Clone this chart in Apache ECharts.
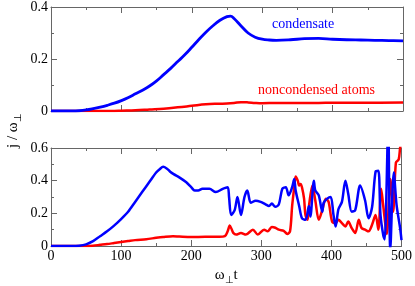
<!DOCTYPE html>
<html><head><meta charset="utf-8">
<script src="https://cdn.jsdelivr.net/npm/echarts@6/dist/echarts.min.js"></script>
<style>html,body{margin:0;padding:0;background:#fff}#c{width:415px;height:286px}</style>
</head><body><div id="c"></div>
<script>
// Top panel: condensate / noncondensed atoms
const tTopBlue = [0,10,20,30,40,50,60,70,80,90,100,110,120,130,140,150,160,170,180,190,200,210,220,230,240,250,255,260,270,280,290,300,310,320,340,360,380,400,420,440,460,480,500];
const topBlue  = [0,0,0,0,0.001,0.004,0.009,0.015,0.022,0.03,0.04,0.052,0.066,0.08,0.096,0.116,0.14,0.164,0.19,0.216,0.245,0.275,0.303,0.328,0.349,0.363,0.365,0.356,0.327,0.3,0.284,0.276,0.273,0.272,0.274,0.278,0.279,0.276,0.274,0.273,0.272,0.271,0.27];
const tTopRed  = [0,50,90,100,120,140,160,180,200,220,240,250,260,270,280,290,300,320,350,380,400,450,500];
const topRed   = [0,0,0,0.001,0.003,0.006,0.009,0.014,0.02,0.026,0.028,0.029,0.031,0.034,0.033,0.031,0.03,0.031,0.031,0.031,0.032,0.032,0.033];
// Bottom panel
const tBotBlue = [0,10,20,30,40,50,60,70,80,90,100,110,120,130,140,150,155,160,165,170,175,183,193,200,205,210,216,226,235,245,252,254,257,262,266,271,276,280,285,292,299,306,311,315,320,325,330,335,339,344,347,349,354,358,363,368,370,375,377,382,387,389,394,399,403,406,410,415,420,424,429,434,441,448,453,458,463,467,470,474,476,481,484,489,493,498,500];
const botBlue  = [0,0,0,0,0.002,0.01,0.03,0.06,0.09,0.125,0.165,0.21,0.27,0.33,0.39,0.45,0.47,0.485,0.475,0.455,0.44,0.42,0.39,0.36,0.34,0.34,0.35,0.35,0.33,0.35,0.36,0.3,0.19,0.22,0.3,0.19,0.3,0.34,0.265,0.277,0.27,0.255,0.245,0.26,0.24,0.255,0.35,0.36,0.31,0.36,0.41,0.34,0.245,0.17,0.16,0.245,0.18,0.4,0.34,0.31,0.21,0.265,0.29,0.3,0.19,0.12,0.225,0.27,0.4,0.32,0.21,0.22,0.37,0.28,0.17,0.237,0.455,0.46,0.19,0.065,0.04,0.72,-0.02,0.45,0.25,0.11,0.036];
const tBotRed  = [0,50,60,70,80,90,100,110,120,136,150,160,174,183,200,220,240,248,252,255,258,260,264,271,278,288,295,304,309,315,320,325,332,337,341,344,347,349,352,354,356,358,361,363,366,368,373,377,382,387,392,396,401,406,410,415,420,424,429,434,439,443,448,453,458,463,467,471,474,479,484,488,492,496,498,500];
const botRed   = [0,0,0.002,0.007,0.012,0.018,0.024,0.03,0.036,0.042,0.05,0.055,0.06,0.058,0.055,0.056,0.056,0.06,0.09,0.125,0.1,0.08,0.07,0.08,0.07,0.1,0.07,0.1,0.09,0.116,0.112,0.1,0.093,0.074,0.09,0.245,0.36,0.425,0.4,0.37,0.38,0.36,0.29,0.19,0.16,0.245,0.37,0.28,0.16,0.22,0.29,0.27,0.15,0.14,0.16,0.14,0.12,0.15,0.11,0.08,0.16,0.11,0.1,0.09,0.13,0.19,0.1,0.35,0.245,0.074,0.41,0.21,0.51,0.53,0.6,0.65];
const xTicks = [0,100,200,300,400,500];

const zip = (a,b)=>a.map((t,i)=>[t,b[i]]);
const frame = '#666';
function xAx(grid, pos, labels){
  return {type:'value', gridIndex:grid, position:pos, min:xTicks[0], max:xTicks[xTicks.length-1], interval:xTicks[1]-xTicks[0],
    axisLine:{show:true,onZero:false,lineStyle:{color:frame,width:1}},
    axisTick:{show:true,inside:true,length:6,lineStyle:{color:frame}},
    minorTick:{show:true,splitNumber:2,length:3,lineStyle:{color:frame}},
    splitLine:{show:false},
    axisLabel:{show:labels,color:'#000',fontFamily:'Liberation Serif',fontSize:14,margin:3}};
}
function yAx(grid, pos, max, labels){
  return {type:'value', gridIndex:grid, position:pos, min:0, max:max, interval:0.2,
    axisLine:{show:true,onZero:false,lineStyle:{color:frame,width:1}},
    axisTick:{show:true,inside:true,length:6,lineStyle:{color:frame}},
    minorTick:{show:true,splitNumber:2,length:3,lineStyle:{color:frame}},
    splitLine:{show:false},
    axisLabel:{show:labels,color:'#000',fontFamily:'Liberation Serif',fontSize:14,margin:3,
      formatter:v=>v===0?'0':v.toFixed(1)}};
}
const xName = xAx(1,'bottom',true);
xName.name = '{a|ω}{s|⊥}{a|t}';
xName.nameLocation = 'middle';
xName.nameGap = 20;
xName.nameTextStyle = {rich:{a:{fontFamily:'Liberation Serif',fontSize:15,color:'#000'},s:{fontFamily:'Liberation Serif',fontSize:10,color:'#000',padding:[9,0,0,0]}}};
const chart = echarts.init(document.getElementById('c'));
chart.setOption({
  animation:false,
  backgroundColor:'#fff',
  grid:[{left:51,right:12,top:6,height:105},{left:51,right:12,top:148,height:105}],
  xAxis:[xAx(0,'bottom',false),xAx(0,'top',false),xName,xAx(1,'top',false)],
  yAxis:[yAx(0,'left',0.4,true),yAx(0,'right',0.4,false),yAx(1,'left',0.6,true),yAx(1,'right',0.6,false)],
  series:[
    {type:'line',xAxisIndex:0,yAxisIndex:0,data:zip(tTopRed,topRed),smooth:0.4,symbol:'none',lineStyle:{color:'#ff0000',width:2.5}},
    {type:'line',xAxisIndex:0,yAxisIndex:0,data:zip(tTopBlue,topBlue),smooth:0.4,symbol:'none',lineStyle:{color:'#0000ff',width:2.8}},
    {type:'line',xAxisIndex:2,yAxisIndex:2,data:zip(tBotRed,botRed),smooth:0.3,symbol:'none',lineStyle:{color:'#ff0000',width:2.5}},
    {type:'line',xAxisIndex:2,yAxisIndex:2,data:zip(tBotBlue,botBlue),smooth:0.3,symbol:'none',lineStyle:{color:'#0000ff',width:2.5}}
  ],
  graphic:[
    {type:'text',left:272,top:17,style:{text:'condensate',fill:'#0000ff',fontFamily:'Liberation Serif',fontSize:14}},
    {type:'text',left:258,top:83,style:{text:'noncondensed atoms',fill:'#ff0000',fontFamily:'Liberation Serif',fontSize:14}},
    {type:'text',x:4,y:148,rotation:Math.PI/2,style:{text:'{a|j / ω}{s|⊥}',fontFamily:'Liberation Serif',fontSize:15,rich:{a:{fontFamily:'Liberation Serif',fontSize:15,fill:'#000'},s:{fontFamily:'Liberation Serif',fontSize:10,fill:'#000',padding:[9,0,0,0]}}}}
  ]
});
</script></body></html>
